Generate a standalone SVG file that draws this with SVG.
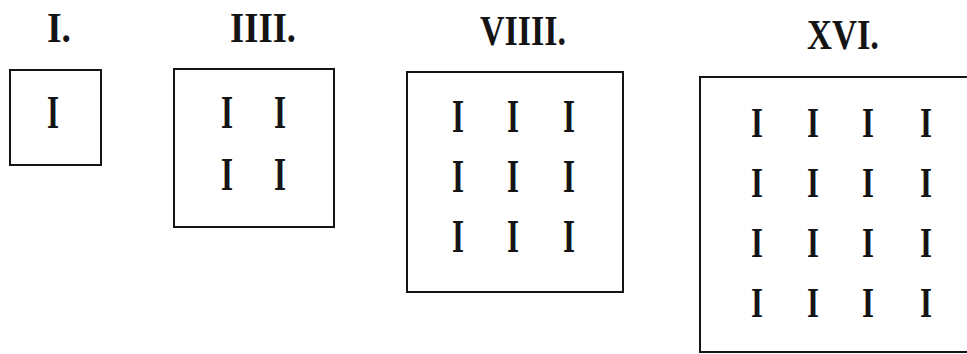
<svg xmlns="http://www.w3.org/2000/svg" width="967" height="354" viewBox="0 0 967 354">
<style>
.box{fill:none;stroke:#141414;stroke-width:2}
.hd{font-family:"Liberation Serif","Times New Roman",serif;font-weight:bold;font-size:43px;fill:#141414;text-anchor:middle}
.i{font-family:"Liberation Serif","Times New Roman",serif;font-weight:bold;font-size:46px;fill:#141414;text-anchor:middle}
.s{font-size:42px}
</style>
<rect width="967" height="354" fill="#ffffff"/>
<g id="n1">
<text class="hd" x="59" y="42" textLength="24" lengthAdjust="spacingAndGlyphs">I.</text>
<rect class="box" x="10" y="70" width="91" height="95"/>
<text class="i" x="53" y="128" textLength="12" lengthAdjust="spacingAndGlyphs">I</text>
</g>
<g id="n4">
<text class="hd" x="263" y="42" textLength="66" lengthAdjust="spacingAndGlyphs">IIII.</text>
<rect class="box" x="174" y="69" width="160" height="158"/>
<text class="i" x="227" y="128" textLength="12" lengthAdjust="spacingAndGlyphs">I</text>
<text class="i" x="280" y="128" textLength="12" lengthAdjust="spacingAndGlyphs">I</text>
<text class="i" x="227" y="190" textLength="12" lengthAdjust="spacingAndGlyphs">I</text>
<text class="i" x="280" y="190" textLength="12" lengthAdjust="spacingAndGlyphs">I</text>
</g>
<g id="n9">
<text class="hd" x="523" y="45" textLength="86" lengthAdjust="spacingAndGlyphs">VIIII.</text>
<rect class="box" x="407" y="72" width="216" height="220"/>
<text class="i" x="458" y="132" textLength="12" lengthAdjust="spacingAndGlyphs">I</text>
<text class="i" x="513" y="132" textLength="12" lengthAdjust="spacingAndGlyphs">I</text>
<text class="i" x="569" y="132" textLength="12" lengthAdjust="spacingAndGlyphs">I</text>
<text class="i" x="458" y="192" textLength="12" lengthAdjust="spacingAndGlyphs">I</text>
<text class="i" x="513" y="192" textLength="12" lengthAdjust="spacingAndGlyphs">I</text>
<text class="i" x="569" y="192" textLength="12" lengthAdjust="spacingAndGlyphs">I</text>
<text class="i" x="458" y="252" textLength="12" lengthAdjust="spacingAndGlyphs">I</text>
<text class="i" x="513" y="252" textLength="12" lengthAdjust="spacingAndGlyphs">I</text>
<text class="i" x="569" y="252" textLength="12" lengthAdjust="spacingAndGlyphs">I</text>
</g>
<g id="n16">
<text class="hd" x="843" y="49" textLength="72" lengthAdjust="spacingAndGlyphs">XVI.</text>
<path class="box" d="M967 77 H700 V352 H967"/>
<text class="i s" x="757" y="137" textLength="12" lengthAdjust="spacingAndGlyphs">I</text>
<text class="i s" x="813" y="137" textLength="12" lengthAdjust="spacingAndGlyphs">I</text>
<text class="i s" x="868" y="137" textLength="12" lengthAdjust="spacingAndGlyphs">I</text>
<text class="i s" x="926" y="137" textLength="12" lengthAdjust="spacingAndGlyphs">I</text>
<text class="i s" x="757" y="197" textLength="12" lengthAdjust="spacingAndGlyphs">I</text>
<text class="i s" x="813" y="197" textLength="12" lengthAdjust="spacingAndGlyphs">I</text>
<text class="i s" x="868" y="197" textLength="12" lengthAdjust="spacingAndGlyphs">I</text>
<text class="i s" x="926" y="197" textLength="12" lengthAdjust="spacingAndGlyphs">I</text>
<text class="i s" x="757" y="257" textLength="12" lengthAdjust="spacingAndGlyphs">I</text>
<text class="i s" x="813" y="257" textLength="12" lengthAdjust="spacingAndGlyphs">I</text>
<text class="i s" x="868" y="257" textLength="12" lengthAdjust="spacingAndGlyphs">I</text>
<text class="i s" x="926" y="257" textLength="12" lengthAdjust="spacingAndGlyphs">I</text>
<text class="i s" x="757" y="317" textLength="12" lengthAdjust="spacingAndGlyphs">I</text>
<text class="i s" x="813" y="317" textLength="12" lengthAdjust="spacingAndGlyphs">I</text>
<text class="i s" x="868" y="317" textLength="12" lengthAdjust="spacingAndGlyphs">I</text>
<text class="i s" x="926" y="317" textLength="12" lengthAdjust="spacingAndGlyphs">I</text>
</g>
</svg>
